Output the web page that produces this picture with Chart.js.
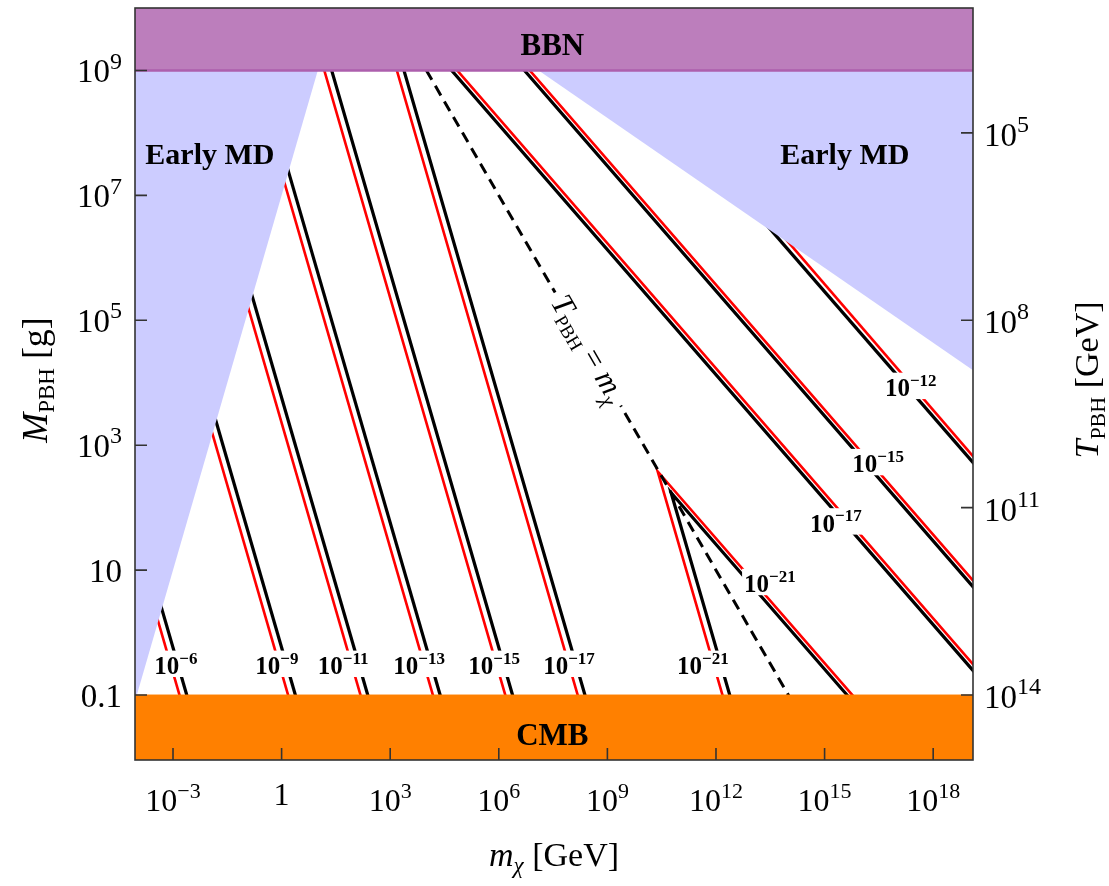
<!DOCTYPE html>
<html>
<head>
<meta charset="utf-8">
<script src="https://cdn.jsdelivr.net/npm/chart.js@4.4.1/dist/chart.umd.min.js"></script>
<style>
  html, body { margin: 0; padding: 0; background: #fff; }
  canvas { display: block; }
</style>
</head>
<body>
<canvas id="pbhChart" width="1109" height="886"></canvas>
<script>
'use strict';

// all positions are log10 values: [log10 m_chi / GeV, log10 M_PBH / g]
let xRange = [-4.05, 19.1];
let yRange = [-2.04, 10];

// T_PBH [GeV] = tempScale / M_PBH [g]
let tempScale = 1e13;

let massTicks = [0.1, 10, 1e3, 1e5, 1e7, 1e9];
let massTickText = ['0.1', '10', '10^3', '10^5', '10^7', '10^9'];
let tempTicks = [1e5, 1e8, 1e11, 1e14];
let tempTickText = ['10^5', '10^8', '10^11', '10^14'];
let chiTicks = [1e-3, 1, 1e3, 1e6, 1e9, 1e12, 1e15, 1e18];
let chiTickText = ['10^\u22123', '1', '10^3', '10^6', '10^9', '10^12', '10^15', '10^18'];

// excluded regions
let bbnEdge = [[-4.2, 9], [19.3, 9]];
let cmbEdge = [[-4.2, -1], [19.3, -1]];
let earlyMdLeft = [[-4.1, -1.2], [1.5, 10]];
let earlyMdRight = [[4.6, 10], [19.3, 4.12]];
let tEqualsM = [[3, 10], [14.2, -1.2]];

// contours, black and red curves
let blackCurves = [
    [[-3.41, 0.58], [-2.52, -1.2]],
    [[-1.91, 3.58], [0.48, -1.2]],
    [[-0.91, 5.58], [2.48, -1.2]],
    [[0.09, 7.58], [4.48, -1.2]],
    [[6.48, -1.2], [-1.28, 14.33], [19.3, 0.60]],
    [[8.48, -1.2], [2.72, 10.32], [19.3, -0.74]],
    [[12.48, -1.2], [10.76, 2.24], [15.92, -1.2]],
    [[13.2, 6.66], [19.3, 2.59]]
];
let redCurves = [
    [[-3.51, 0.38], [-2.72, -1.2]],
    [[-2.01, 3.38], [0.28, -1.2]],
    [[-1.01, 5.38], [2.28, -1.2]],
    [[-0.01, 7.38], [4.28, -1.2]],
    [[6.28, -1.2], [-1.66, 14.68], [19.3, 0.70]],
    [[8.28, -1.2], [2.35, 10.67], [19.3, -0.64]],
    [[12.28, -1.2], [10.39, 2.58], [16.07, -1.2]],
    [[13.6, 6.52], [19.3, 2.69]]
];

let contourText = ['10^\u22126', '10^\u22129', '10^\u221211', '10^\u221213', '10^\u221215', '10^\u221217', '10^\u221221',
    '10^\u221212', '10^\u221215', '10^\u221217', '10^\u221221'];
let contourTextAt = [[-2.92, -0.5], [-0.13, -0.5], [1.70, -0.5], [3.80, -0.5], [5.87, -0.5], [7.94, -0.5], [11.64, -0.5],
    [17.38, 3.95], [16.48, 2.73], [15.31, 1.78], [13.49, 0.81]];

let regionText = ['BBN', 'CMB', 'Early MD', 'Early MD'];
let regionTextAt = [[7.48, 9.24], [7.48, -1.8], [-1.98, 7.51], [15.56, 7.51]];
let tEqualsMTextAt = [8.46, 4.54];

const SERIF = "'Liberation Serif', 'DejaVu Serif', serif";

function toPoints(list) {
    return list.map(p => ({ x: Math.pow(10, p[0]), y: Math.pow(10, p[1]) }));
}

function curve(list, color, width, extra) {
    return Object.assign({
        data: toPoints(list),
        showLine: true,
        borderColor: color,
        borderWidth: width,
        pointRadius: 0,
        fill: false,
        clip: 0,
        borderJoinStyle: 'miter'
    }, extra || {});
}

// first dataset ends up on top
let datasets = [
    curve(bbnEdge, '#ad5fad', 2.5, { fill: 'end', backgroundColor: '#bc7ebc' }),
    curve(cmbEdge, '#ff8000', 1, { fill: 'start', backgroundColor: '#ff8000' }),
    curve(earlyMdLeft, 'rgba(0,0,0,0)', 0, { fill: 'end', backgroundColor: '#ccccff' }),
    curve(earlyMdRight, 'rgba(0,0,0,0)', 0, { fill: 'end', backgroundColor: '#ccccff' }),
    curve(tEqualsM, '#000', 3, { borderDash: [11, 7] })
];
for (let i = 0; i < blackCurves.length; i++) {
    datasets.push(curve(blackCurves[i], '#000', 3.2));
}
for (let i = 0; i < redCurves.length; i++) {
    datasets.push(curve(redCurves[i], '#ff0000', 2.6));
}

// text helpers: a label is a list of parts {text, font, dy}
function powerParts(label, size, supSize, weight) {
    let bits = label.split('^');
    let parts = [{ text: bits[0], font: `${weight} ${size}px ${SERIF}`, dy: 0 }];
    if (bits[1]) {
        parts.push({ text: bits[1], font: `${weight} ${supSize}px ${SERIF}`, dy: -size * 0.42 });
    }
    return parts;
}

function partsWidth(ctx, parts) {
    let w = 0;
    parts.forEach(p => {
        ctx.font = p.font;
        w += ctx.measureText(p.text).width;
    });
    return w;
}

function drawParts(ctx, parts, x, y) {
    let cx = x;
    parts.forEach(p => {
        ctx.font = p.font;
        ctx.fillText(p.text, cx, y + (p.dy || 0));
        cx += ctx.measureText(p.text).width;
    });
}

function at(chart, p) {
    return {
        x: chart.scales.x.getPixelForValue(Math.pow(10, p[0])),
        y: chart.scales.y.getPixelForValue(Math.pow(10, p[1]))
    };
}

const decorations = {
    id: 'decorations',
    beforeDraw(chart) {
        let ctx = chart.ctx;
        ctx.save();
        ctx.fillStyle = '#fff';
        ctx.fillRect(0, 0, chart.width, chart.height);
        ctx.restore();
    },
    afterDatasetsDraw(chart) {
        let ctx = chart.ctx;
        let a = chart.chartArea;
        let xs = chart.scales.x;
        let ys = chart.scales.y;
        ctx.save();
        ctx.fillStyle = '#000';
        ctx.textBaseline = 'alphabetic';

        // region names
        for (let i = 0; i < regionText.length; i++) {
            let p = at(chart, regionTextAt[i]);
            let size = i < 2 ? 31 : 30;
            ctx.font = `bold ${size}px ${SERIF}`;
            ctx.textAlign = 'center';
            ctx.fillText(regionText[i], p.x, p.y);
        }
        ctx.textAlign = 'left';

        // contour values on white boxes
        for (let i = 0; i < contourText.length; i++) {
            let p = at(chart, contourTextAt[i]);
            let parts = powerParts(contourText[i], 25, 17, 'bold');
            let w = partsWidth(ctx, parts);
            let top = -25 * 0.42 - 17 * 0.7;
            let base = p.y - (top + 2) / 2;
            ctx.fillStyle = '#fff';
            ctx.fillRect(p.x - w / 2 - 2, base + top - 1, w + 4, -top + 4);
            ctx.fillStyle = '#000';
            drawParts(ctx, parts, p.x - w / 2, base);
        }

        // T_PBH = m_chi along the dashed line
        let d0 = at(chart, tEqualsM[0]);
        let d1 = at(chart, tEqualsM[1]);
        let angle = Math.atan2(d1.y - d0.y, d1.x - d0.x);
        let c = at(chart, tEqualsMTextAt);
        let lineParts = [
            { text: 'T', font: `italic 31px ${SERIF}`, dy: 0 },
            { text: 'PBH', font: `19px ${SERIF}`, dy: 6 },
            { text: ' = ', font: `31px ${SERIF}`, dy: 0 },
            { text: 'm', font: `italic 31px ${SERIF}`, dy: 0 },
            { text: '\u03c7', font: `italic 21px ${SERIF}`, dy: 6 }
        ];
        let lw = partsWidth(ctx, lineParts);
        ctx.save();
        ctx.translate(c.x, c.y);
        ctx.rotate(angle);
        ctx.fillStyle = '#fff';
        ctx.fillRect(-lw / 2 - 6, -14, lw + 12, 28);
        ctx.fillStyle = '#000';
        drawParts(ctx, lineParts, -lw / 2, 9);
        ctx.restore();

        // frame and inward ticks
        ctx.strokeStyle = '#333';
        ctx.lineWidth = 1.6;
        ctx.strokeRect(a.left, a.top, a.right - a.left, a.bottom - a.top);
        ctx.beginPath();
        massTicks.forEach(v => {
            let py = ys.getPixelForValue(v);
            ctx.moveTo(a.left, py);
            ctx.lineTo(a.left + 12, py);
        });
        tempTicks.forEach(t => {
            let py = ys.getPixelForValue(tempScale / t);
            ctx.moveTo(a.right, py);
            ctx.lineTo(a.right - 12, py);
        });
        chiTicks.forEach(v => {
            let px = xs.getPixelForValue(v);
            ctx.moveTo(px, a.bottom);
            ctx.lineTo(px, a.bottom - 12);
        });
        ctx.stroke();

        // tick labels
        ctx.fillStyle = '#000';
        massTicks.forEach((v, i) => {
            let parts = powerParts(massTickText[i], 33, 24, 'normal');
            let w = partsWidth(ctx, parts);
            drawParts(ctx, parts, a.left - 13 - w, ys.getPixelForValue(v) + 12);
        });
        tempTicks.forEach((t, i) => {
            let parts = powerParts(tempTickText[i], 33, 24, 'normal');
            drawParts(ctx, parts, a.right + 11, ys.getPixelForValue(tempScale / t) + 13);
        });
        chiTicks.forEach((v, i) => {
            let parts = powerParts(chiTickText[i], 32, 22, 'normal');
            let w = partsWidth(ctx, parts);
            let base = a.bottom + 24 + (parts.length > 1 ? 27 : 21);
            drawParts(ctx, parts, xs.getPixelForValue(v) - w / 2, base);
        });

        // axis titles
        let xTitle = [
            { text: 'm', font: `italic 34px ${SERIF}`, dy: 0 },
            { text: '\u03c7', font: `italic 23px ${SERIF}`, dy: 7 },
            { text: ' [GeV]', font: `34px ${SERIF}`, dy: 0 }
        ];
        let tw = partsWidth(ctx, xTitle);
        drawParts(ctx, xTitle, (a.left + a.right) / 2 - tw / 2, 866);

        let leftTitle = [
            { text: 'M', font: `italic 36px ${SERIF}`, dy: 0 },
            { text: 'PBH', font: `23px ${SERIF}`, dy: 7 },
            { text: ' [g]', font: `36px ${SERIF}`, dy: 0 }
        ];
        tw = partsWidth(ctx, leftTitle);
        ctx.save();
        ctx.translate(47, (a.top + a.bottom) / 2 - 4);
        ctx.rotate(-Math.PI / 2);
        drawParts(ctx, leftTitle, -tw / 2, 0);
        ctx.restore();

        let rightTitle = [
            { text: 'T', font: `italic 34px ${SERIF}`, dy: 0 },
            { text: 'PBH', font: `22px ${SERIF}`, dy: 7 },
            { text: ' [GeV]', font: `34px ${SERIF}`, dy: 0 }
        ];
        tw = partsWidth(ctx, rightTitle);
        ctx.save();
        ctx.translate(1098, (a.top + a.bottom) / 2 - 4);
        ctx.rotate(-Math.PI / 2);
        drawParts(ctx, rightTitle, -tw / 2, 0);
        ctx.restore();

        ctx.restore();
    }
};

let ctx = document.getElementById('pbhChart').getContext('2d');
new Chart(ctx, {
    type: 'scatter',
    data: { datasets: datasets },
    options: {
        responsive: false,
        devicePixelRatio: 1,
        animation: false,
        events: [],
        layout: { padding: { left: 135, top: 8, right: 136, bottom: 126 } },
        scales: {
            x: {
                type: 'logarithmic',
                display: false,
                min: Math.pow(10, xRange[0]),
                max: Math.pow(10, xRange[1])
            },
            y: {
                type: 'logarithmic',
                display: false,
                min: Math.pow(10, yRange[0]),
                max: Math.pow(10, yRange[1])
            }
        },
        plugins: {
            legend: { display: false },
            tooltip: { enabled: false }
        }
    },
    plugins: [decorations]
});
</script>
</body>
</html>
